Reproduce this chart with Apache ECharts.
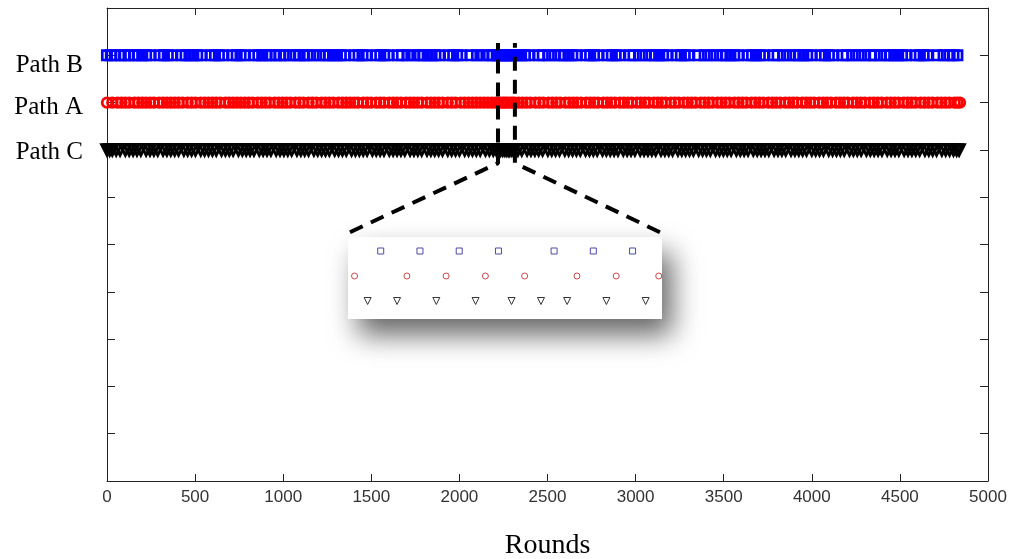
<!DOCTYPE html>
<html><head><meta charset="utf-8">
<script src="https://cdn.jsdelivr.net/npm/echarts@6/dist/echarts.min.js"></script>
<style>html,body{margin:0;padding:0;background:#fff}#c{width:1010px;height:559px}</style>
</head><body><div id="c"></div>
<script>
// Row values for the three paths on the y axis
const rowLabels = {9: 'Path B', 8: 'Path A', 7: 'Path C'};
const rowB = 9, rowA = 8, rowC = 7;
const xTickStep = 500;

// Rounds at which a marker is drawn
const pathB = [0,22,44,78,100,122,156,178,200,222,244,301,323,345,367,424,446,468,490,512,534,591,613,635,657,714,736,758,780,837,859,881,903,925,959,981,1003,1037,1071,1093,1115,1137,1171,1205,1239,1261,1283,1305,1327,1349,1406,1428,1450,1472,1529,1551,1573,1595,1652,1674,1708,1742,1776,1798,1820,1842,1864,1886,1943,1965,1987,2009,2066,2100,2134,2168,2190,2212,2229,2241,2253,2265,2282,2294,2306,2328,2350,2372,2394,2451,2473,2507,2541,2575,2597,2619,2641,2663,2720,2742,2764,2786,2843,2865,2887,2909,2966,2988,3022,3056,3090,3112,3134,3156,3178,3235,3257,3279,3301,3358,3392,3426,3460,3494,3516,3538,3560,3582,3639,3661,3683,3705,3727,3784,3806,3840,3874,3908,3930,3952,3974,3996,4053,4075,4097,4119,4176,4198,4232,4266,4300,4334,4356,4390,4424,4446,4468,4490,4512,4534,4591,4613,4635,4657,4714,4748,4782,4804,4826];
const pathA = [0,30,60,82,104,126,156,178,200,222,244,266,296,318,340,362,384,406,428,458,480,502,532,554,576,598,620,642,672,694,716,738,760,782,804,826,856,878,900,922,952,974,996,1018,1040,1070,1092,1114,1144,1166,1188,1218,1240,1262,1284,1314,1336,1358,1380,1402,1424,1454,1476,1498,1528,1550,1572,1602,1624,1646,1668,1698,1720,1742,1764,1786,1816,1838,1860,1882,1904,1934,1956,1978,2008,2030,2052,2074,2096,2118,2140,2162,2184,2205,2221,2237,2249,2261,2273,2289,2301,2314,2336,2358,2380,2402,2432,2454,2476,2506,2528,2550,2572,2602,2624,2646,2668,2690,2720,2742,2764,2786,2816,2838,2860,2882,2912,2934,2956,2978,3008,3030,3052,3074,3104,3126,3148,3170,3200,3222,3244,3274,3296,3318,3340,3370,3392,3414,3436,3466,3488,3510,3532,3562,3584,3606,3628,3658,3680,3702,3724,3754,3776,3798,3820,3850,3872,3894,3916,3946,3968,3990,4012,4042,4064,4086,4108,4138,4160,4182,4204,4234,4256,4278,4300,4330,4352,4374,4396,4426,4448,4470,4492,4522,4544,4566,4588,4618,4640,4662,4684,4714,4736,4758,4780,4810,4826,4841];
const pathC = [0,15,30,52,74,104,126,148,170,192,222,244,266,288,318,340,362,384,406,436,458,480,502,532,554,576,598,620,650,672,694,716,746,768,790,812,834,864,886,908,930,960,982,1004,1026,1048,1078,1100,1122,1144,1174,1196,1218,1240,1262,1292,1314,1336,1358,1388,1410,1432,1454,1476,1506,1528,1550,1572,1602,1624,1646,1668,1690,1720,1742,1764,1786,1816,1838,1860,1882,1904,1934,1956,1978,2000,2030,2052,2074,2096,2118,2148,2170,2192,2210,2225,2234,2246,2258,2269,2278,2286,2298,2310,2332,2354,2384,2406,2428,2450,2472,2502,2524,2546,2568,2598,2620,2642,2664,2686,2716,2738,2760,2782,2812,2834,2856,2878,2900,2930,2952,2974,2996,3026,3048,3070,3092,3114,3144,3166,3188,3210,3240,3262,3284,3306,3328,3358,3380,3402,3424,3454,3476,3498,3520,3542,3572,3594,3616,3638,3668,3690,3712,3734,3756,3786,3808,3830,3852,3882,3904,3926,3948,3970,4000,4022,4044,4066,4096,4118,4140,4162,4184,4214,4236,4258,4280,4310,4332,4354,4376,4398,4428,4450,4472,4494,4524,4546,4568,4590,4612,4642,4664,4686,4708,4738,4760,4782,4804,4822,4836];

// Zoomed window shown in the inset (rounds) and the dashed guide lines (data space)
const zoomRange = [2219, 2315];
const guideLeft = [[1379, 5.26], [2219, 6.72], [2219, 9.26]];
const guideRight = [[3138, 5.26], [2315, 6.72], [2315, 9.26]];

const chart = echarts.init(document.getElementById('c'), null, {renderer: 'canvas'});
const axisCol = '#222';
const serif = "'Liberation Serif', 'Times New Roman', serif";
function pts(arr, y) { return arr.map(x => [x, y]); }
function mainScatter(arr, y, symbol, color, size, bw, rot) {
  return {type: 'scatter', xAxisIndex: 0, yAxisIndex: 0, symbol: symbol, symbolSize: size, symbolRotate: rot || 0,
    data: pts(arr, y), silent: true, animation: false, clip: false,
    itemStyle: {color: 'rgba(0,0,0,0)', borderColor: color, borderWidth: bw, opacity: 1}};
}
function insetScatter(arr, y, symbol, color, size, rot) {
  return {type: 'scatter', xAxisIndex: 2, yAxisIndex: 2, symbol: symbol, symbolSize: size, symbolRotate: rot || 0,
    data: pts(arr, y), silent: true, animation: false, clip: true, z: 5,
    itemStyle: {color: 'rgba(0,0,0,0)', borderColor: color, borderWidth: 1, opacity: 1}};
}
function guide(d) {
  return {type: 'line', xAxisIndex: 0, yAxisIndex: 0, data: d, symbol: 'none', silent: true, animation: false, z: 10,
    lineStyle: {color: '#000', width: 4, type: [14, 9]}};
}
const frameAxis = {
  axisLine: {onZero: false, lineStyle: {color: axisCol, width: 1}},
  splitLine: {show: false}
};
const option = {
  backgroundColor: '#fff',
  animation: false,
  grid: [
    {left: 107, right: 22, top: 8, bottom: 78, containLabel: false, outerBoundsMode: 'none'},
    {left: 348, top: 237, width: 314, height: 82, show: true, backgroundColor: '#fff', borderWidth: 0,
     outerBoundsMode: 'none',
     shadowColor: 'rgba(0,0,0,0.6)', shadowBlur: 28, shadowOffsetX: 10, shadowOffsetY: 16}
  ],
  xAxis: [
    Object.assign({type: 'value', gridIndex: 0, position: 'bottom', min: 0, max: 5000, interval: xTickStep,
     axisTick: {inside: true, length: 7, lineStyle: {color: axisCol}},
     axisLabel: {fontFamily: "'Liberation Sans', Arial, sans-serif", fontSize: 17, color: '#333', margin: 8,
       formatter: v => String(v)},
     name: 'Rounds', nameLocation: 'middle', nameGap: 51,
     nameTextStyle: {fontFamily: serif, fontSize: 28, color: '#000'}}, frameAxis),
    Object.assign({type: 'value', gridIndex: 0, position: 'top', min: 0, max: 5000, interval: xTickStep,
     axisTick: {inside: true, length: 7, lineStyle: {color: axisCol}},
     axisLabel: {show: false}}, frameAxis),
    {type: 'value', gridIndex: 1, min: zoomRange[0], max: zoomRange[1], show: false}
  ],
  yAxis: [
    Object.assign({type: 'value', gridIndex: 0, position: 'left', min: 0, max: 10, interval: 1,
     axisTick: {inside: true, length: 8, lineStyle: {color: axisCol}},
     axisLabel: {margin: 24, fontFamily: serif, fontSize: 25, color: '#000',
       formatter: v => v === rowB ? '{b|' + rowLabels[v] + '}' : v === rowA ? '{a|' + rowLabels[v] + '}' : v === rowC ? '{c|' + rowLabels[v] + '}' : '',
       rich: {
         b: {fontFamily: serif, fontSize: 25, color: '#000', padding: [20, 0, 0, 0]},
         a: {fontFamily: serif, fontSize: 25, color: '#000', padding: [10, 0, 0, 0]},
         c: {fontFamily: serif, fontSize: 25, color: '#000', padding: [5, 0, 0, 0]}
       }}}, frameAxis),
    Object.assign({type: 'value', gridIndex: 0, position: 'right', min: 0, max: 10, interval: 1,
     axisTick: {inside: true, length: 8, lineStyle: {color: axisCol}},
     axisLabel: {show: false}}, frameAxis),
    {type: 'value', gridIndex: 1, min: 6.28, max: 9.56, show: false}
  ],
  series: [
    mainScatter(pathB, rowB, 'rect', '#0000ff', 9.4, 2.7),
    mainScatter(pathA, rowA, 'circle', '#ff0000', 9.6, 2.8),
    mainScatter(pathC, rowC, 'triangle', '#000000', 10.5, 3, 180),
    guide(guideLeft),
    guide(guideRight),
    insetScatter(pathB, rowB, 'rect', '#4b4ba6', 6),
    insetScatter(pathA, rowA, 'circle', '#c84a4a', 6),
    insetScatter(pathC, rowC, 'triangle', '#333333', 7, 180)
  ]
};
chart.setOption(option);
</script></body></html>
